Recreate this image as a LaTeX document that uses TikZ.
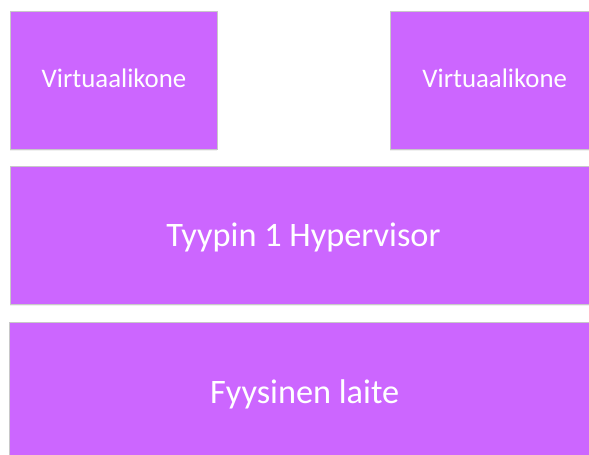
\documentclass[tikz,border=0pt]{standalone}
\usepackage{fontspec}
\setmainfont{Carlito}
\usetikzlibrary{shadows}
\definecolor{layerfill}{HTML}{CC66FF}
\definecolor{layeredge}{HTML}{C8C8C8}
\tikzset{
  layer/.style={draw=layeredge, line width=0.8pt, fill=layerfill,
    drop shadow={shadow xshift=0pt, shadow yshift=-2pt, opacity=0.12}},
  smalllabel/.style={text=white, inner sep=0pt, anchor=base,
    font=\fontsize{26.8}{30}\selectfont},
  biglabel/.style={text=white, inner sep=0pt, anchor=base,
    font=\fontsize{34.3}{40}\selectfont},
}
\begin{document}
\begin{tikzpicture}[x=1pt,y=-1pt]
  \useasboundingbox (0,0) rectangle (589,455);
  \begin{scope}
    \clip (0,0) rectangle (589,455);
    % virtual machines
    \filldraw[layer] (10,11) rectangle (217,149);
    \filldraw[layer] (390,11) rectangle (600,149);
    % hypervisor layer
    \filldraw[layer] (10,166) rectangle (600,304);
    % hardware layer
    \filldraw[layer] (9,322) rectangle (600,470);
  \end{scope}
  \node[smalllabel] (vm1) at (114,87) {Virtuaalikone};
  \node[smalllabel] (vm2) at (494.7,87) {Virtuaalikone};
  \node[biglabel] (hyp) at (303.4,246) {Tyypin 1 Hypervisor};
  \node[biglabel] (hw) at (304.7,403) {Fyysinen laite};
\end{tikzpicture}
\end{document}
